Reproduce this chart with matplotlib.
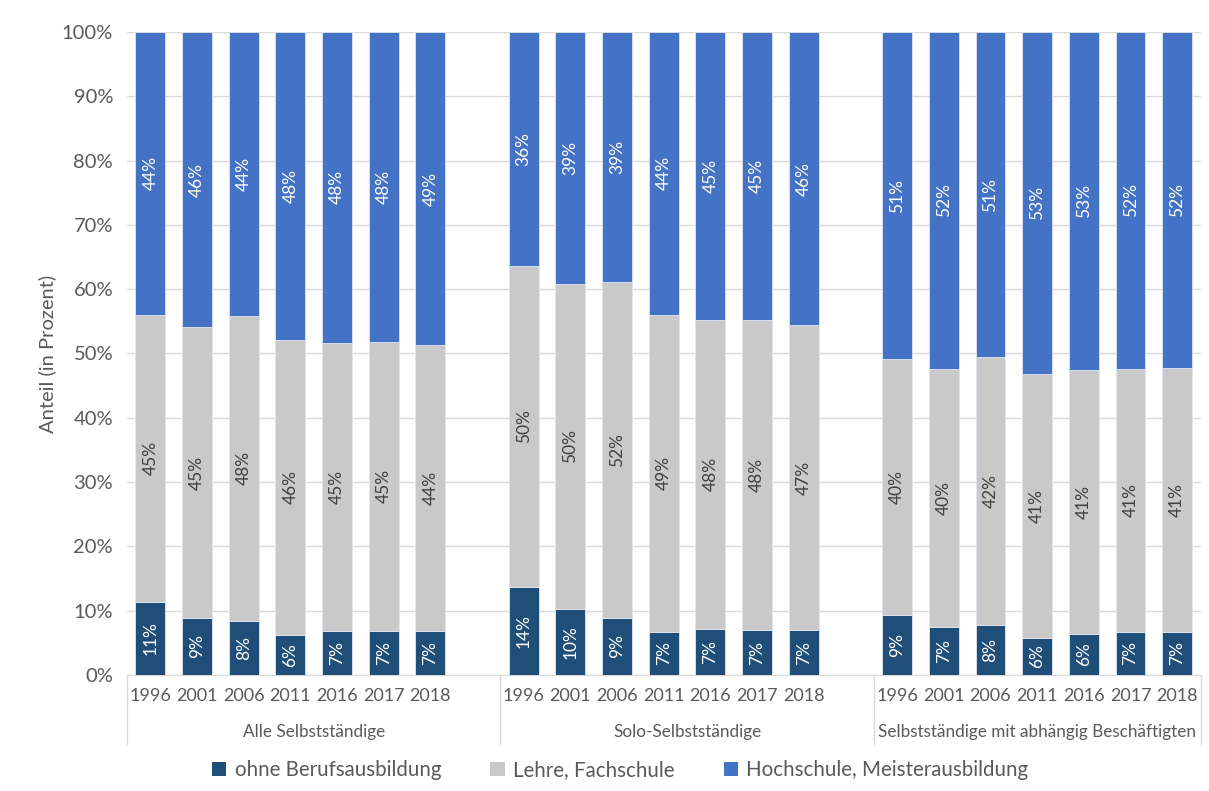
import numpy as np
import matplotlib
matplotlib.use("Agg")
import matplotlib.pyplot as plt
from matplotlib.patches import Patch

plt.rcParams['font.family'] = ['Lato', 'DejaVu Sans']

years = ['1996', '2001', '2006', '2011', '2016', '2017', '2018']
groups = ['Alle Selbstständige', 'Solo-Selbstständige',
          'Selbstständige mit abhängig Beschäftigten']
series = ['ohne Berufsausbildung', 'Lehre, Fachschule', 'Hochschule, Meisterausbildung']

# Anteile in Prozent je Gruppe (Reihenfolge wie years)
ohne = [[11.4, 8.9, 8.4, 6.3, 6.9, 6.9, 6.9],
        [13.7, 10.3, 8.9, 6.7, 7.2, 7.0, 7.0],
        [9.4, 7.4, 7.8, 5.8, 6.4, 6.7, 6.7]]
lehre = [[44.6, 45.2, 47.5, 45.8, 44.8, 44.9, 44.4],
         [49.9, 50.5, 52.2, 49.3, 48.0, 48.2, 47.4],
         [39.7, 40.2, 41.6, 41.0, 41.0, 40.9, 41.0]]
hoch = [[44.0, 45.9, 44.1, 47.9, 48.3, 48.2, 48.7],
        [36.4, 39.2, 38.9, 44.0, 44.8, 44.8, 45.6],
        [50.9, 52.4, 50.6, 53.2, 52.6, 52.4, 52.3]]

colors = ['#1F4E79', '#C9C9C9', '#4472C4']
label_colors = ['white', '#404040', 'white']

fig = plt.figure(figsize=(12.09, 7.91), dpi=100)
ax = fig.add_axes([0.105, 0.1466, 0.888, 0.813])

slot = 8
xpos, xlab = [], []
for g in range(len(groups)):
    x = np.arange(len(years)) + g * slot
    bottom = np.zeros(len(years))
    for s, vals in enumerate([ohne[g], lehre[g], hoch[g]]):
        vals = np.array(vals)
        ax.bar(x, vals, 0.64, bottom=bottom, color=colors[s],
               edgecolor='#E0E6F0', linewidth=0.6, zorder=3)
        for xi, b, v in zip(x, bottom, vals):
            ax.text(xi, b + v / 2, f'{round(v):.0f}%', rotation=90,
                    ha='center', va='center', fontsize=12.5,
                    color=label_colors[s], zorder=4)
        bottom += vals
    xpos += list(x)
    xlab += years

ax.set_xlim(-0.5, 2 * slot + len(years) - 0.5)
ax.set_ylim(0, 100)
ax.set_yticks(np.arange(0, 101, 10))
ax.set_yticklabels([f'{v}%' for v in range(0, 101, 10)])
ax.set_xticks(xpos)
ax.set_xticklabels(xlab)
ax.tick_params(axis='both', length=0, colors='#595959', labelsize=14.5)
ax.tick_params(axis='x', labelsize=13, pad=9)
ax.tick_params(axis='y', pad=10)
ax.grid(axis='y', color='#D9D9D9', linewidth=1, zorder=0)
for sp in ['top', 'right', 'left']:
    ax.spines[sp].set_visible(False)
ax.spines['bottom'].set_color('#D9D9D9')

ax.set_ylabel('Anteil (in Prozent)', fontsize=14.5, color='#595959', labelpad=4)

# Gruppentrenner und Gruppenbeschriftung
tr = ax.get_xaxis_transform()
bounds = [-0.5, slot - 0.5, 2 * slot - 0.5, 2 * slot + len(years) - 0.5]
for b in bounds:
    ax.plot([b, b], [0, -0.107], transform=tr, color='#D9D9D9',
            linewidth=1, clip_on=False)
for g, name in enumerate(groups):
    c = (bounds[g] + bounds[g + 1]) / 2
    ax.text(c, -0.088, name, transform=tr, ha='center', va='center',
            fontsize=12.3, color='#595959')

handles = [Patch(facecolor=c) for c in colors]
fig.legend(handles, series, loc='center', bbox_to_anchor=(0.513, 0.026),
           ncol=3, frameon=False, fontsize=14.8, labelcolor='#595959',
           handlelength=0.7, handleheight=0.7, handletextpad=0.4,
           columnspacing=2.4)

fig.savefig('out.png', dpi=100)
